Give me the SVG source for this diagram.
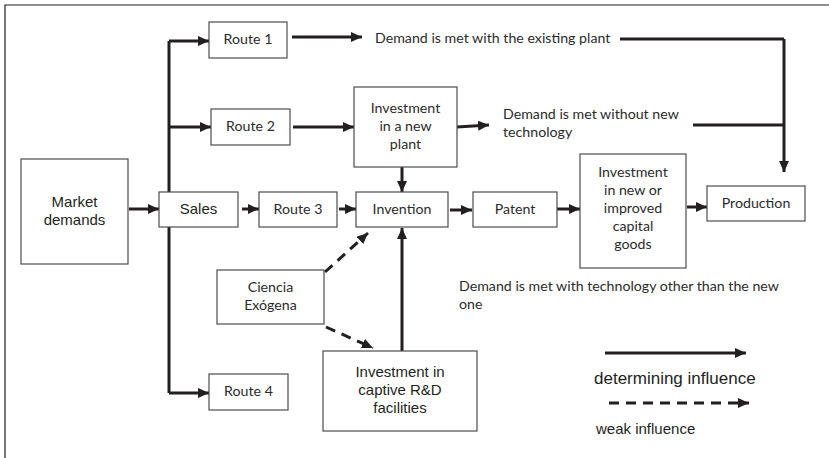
<svg xmlns="http://www.w3.org/2000/svg" width="829" height="458" viewBox="0 0 829 458">
<defs>
<marker id="ah" markerUnits="userSpaceOnUse" markerWidth="12" markerHeight="10" refX="11" refY="5" orient="auto">
<path d="M0,0 L11,5 L0,10 Z" fill="#231f20"/>
</marker>
<style>
.box{fill:#fff;stroke:#4d4d4d;stroke-width:1.2}
.ln{fill:none;stroke:#231f20;stroke-width:3}
.ar{fill:none;stroke:#231f20;stroke-width:3;marker-end:url(#ah)}
.da{fill:none;stroke:#231f20;stroke-width:3;stroke-dasharray:10,7;marker-end:url(#ah)}
.c{font-family:Lato,"Open Sans",sans-serif;font-size:14.2px;fill:#2b2b2b}
.a{font-family:"Liberation Sans",Arial,sans-serif;font-size:15px;fill:#231f20}
.m{text-anchor:middle}
</style>
</defs>
<rect width="829" height="458" fill="#fff"/>
<path d="M5,458 V5 H829" fill="none" stroke="#231f20" stroke-width="1.2"/>

<g id="connectors">
<path class="ln" d="M169,41 V393"/>
<path class="ar" d="M169,41 H209"/>
<path class="ar" d="M169,127 H211"/>
<path class="ar" d="M169,393 H209"/>
<path class="ar" d="M129,209 H159"/>
<path class="ar" d="M242,209 H259"/>
<path class="ar" d="M339,209 H356"/>
<path class="ar" d="M292,37 H362"/>
<path class="ar" d="M293,127 H354"/>
<path class="ar" d="M402,167 V192"/>
<path class="ar" d="M457,127 L489,125"/>
<path class="ar" d="M450,210 H472"/>
<path class="ar" d="M557,209 H580"/>
<path class="ar" d="M687,207 H707"/>
<path class="ln" d="M620,39 H784"/>
<path class="ln" d="M693,125 H784"/>
<path class="ar" d="M784,39 V172"/>
<path class="ar" d="M402,351 V228"/>
<path class="da" d="M325,272 L368,233"/>
<path class="da" d="M326,327 L373,348"/>
<path class="ar" d="M605,353 H746"/>
<path class="da" d="M609,403 H749"/>
</g>

<g id="market"><rect class="box" x="21" y="159" width="107" height="105"/>
<text class="a m" x="74.5" y="207">Market</text><text class="a m" x="74.5" y="225">demands</text></g>
<g id="sales"><rect class="box" x="159" y="192" width="79" height="35"/>
<text class="a m" x="198.5" y="214">Sales</text></g>
<g id="route1"><rect class="box" x="209" y="22" width="78" height="36"/>
<text class="c m" x="248" y="44">Route 1</text></g>
<g id="route2"><rect class="box" x="211" y="109" width="79" height="36"/>
<text class="c m" x="250.5" y="131">Route 2</text></g>
<g id="route3"><rect class="box" x="259" y="192" width="78" height="35"/>
<text class="c m" x="298" y="214">Route 3</text></g>
<g id="route4"><rect class="box" x="209" y="374" width="79" height="36"/>
<text class="c m" x="248.5" y="396">Route 4</text></g>
<g id="newplant"><rect class="box" x="354" y="87" width="103" height="80"/>
<text class="c m" x="405.5" y="113">Investment</text><text class="c m" x="405.5" y="131">in a new</text><text class="c m" x="405.5" y="149">plant</text></g>
<g id="invention"><rect class="box" x="356" y="192" width="92" height="35"/>
<text class="c m" x="402" y="214">Invention</text></g>
<g id="patent"><rect class="box" x="473" y="192" width="84" height="35"/>
<text class="c m" x="515" y="214">Patent</text></g>
<g id="capital"><rect class="box" x="580" y="154" width="106" height="114"/>
<text class="c m" x="633" y="177">Investment</text><text class="c m" x="633" y="195">in new or</text><text class="c m" x="633" y="213">improved</text><text class="c m" x="633" y="231">capital</text><text class="c m" x="633" y="249">goods</text></g>
<g id="production"><rect class="box" x="707" y="186" width="98" height="35"/>
<text class="c m" x="756" y="208">Production</text></g>
<g id="ciencia"><rect class="box" x="217" y="270" width="107" height="54"/>
<text class="c m" x="270.5" y="292">Ciencia</text><text class="c m" x="270.5" y="310">Exógena</text></g>
<g id="rd"><rect class="box" x="323" y="351" width="154" height="80"/>
<text class="a m" x="400" y="377">Investment in</text><text class="a m" x="400" y="395">captive R&amp;D</text><text class="a m" x="400" y="413">facilities</text></g>

<g id="labels">
<text class="c" x="375" y="43">Demand is met with the existing plant</text>
<text class="c" x="503" y="119">Demand is met without new</text>
<text class="c" x="503" y="137">technology</text>
<text class="c" x="459" y="291">Demand is met with technology other than the new</text>
<text class="c" x="459" y="309">one</text>
<text class="a" x="594" y="384" style="font-size:17px">determining influence</text>
<text class="a" x="596" y="434">weak influence</text>
</g>
</svg>
